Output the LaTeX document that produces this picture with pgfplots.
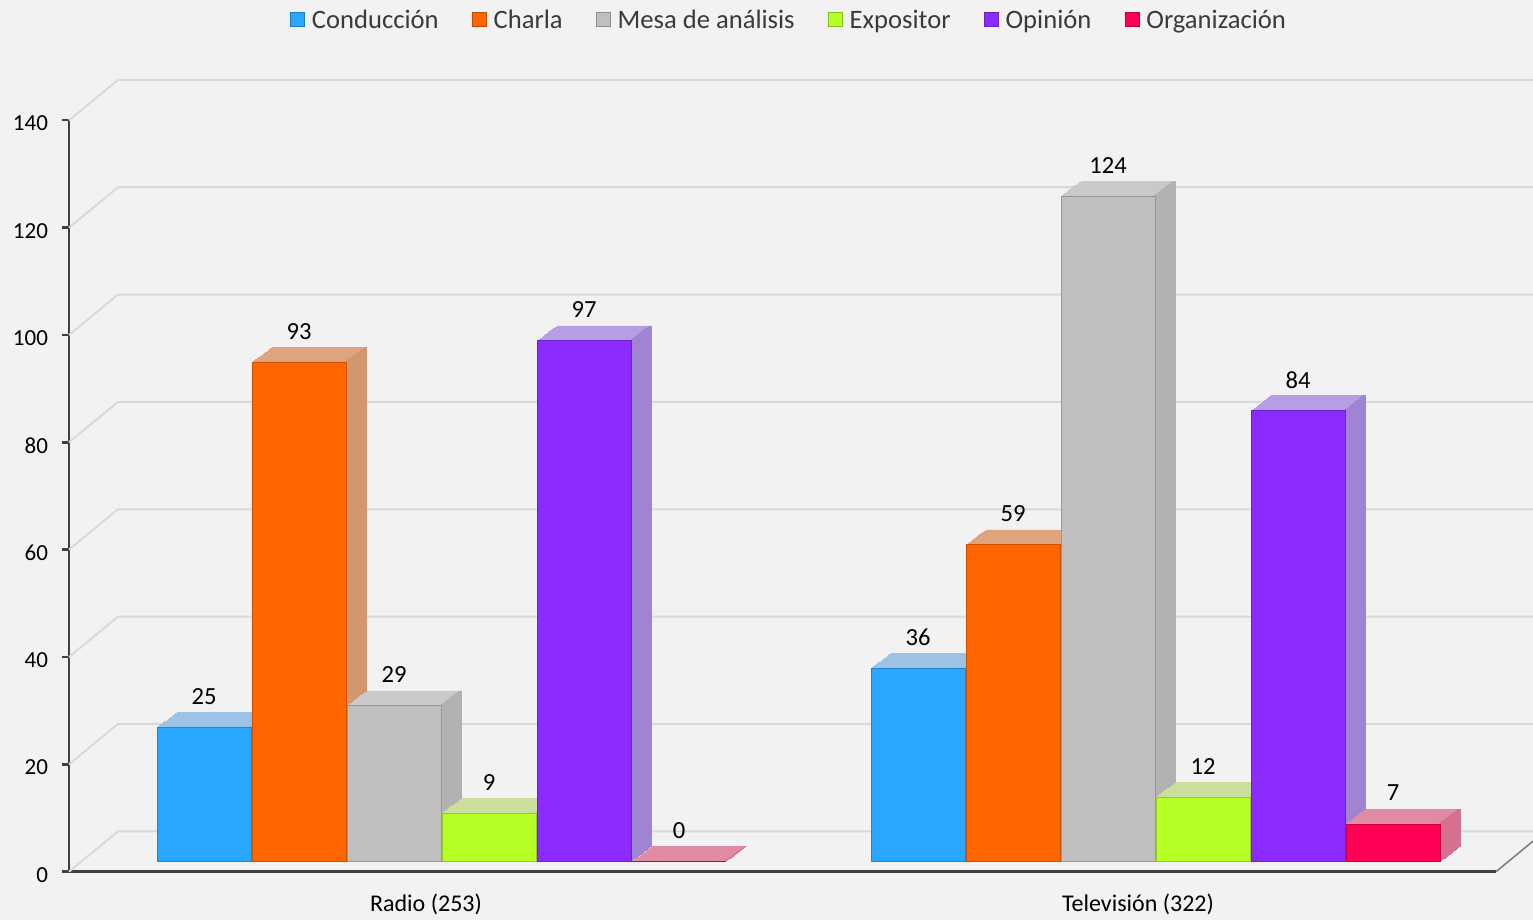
\documentclass[border=0pt]{standalone}
\usepackage{pgfplots}
\pgfplotsset{compat=1.18}
\usepackage{pgfplotstable}
\usepackage{fontspec}
\setmainfont{Carlito}
\usetikzlibrary{backgrounds}

\definecolor{bg}{HTML}{F2F2F2}
\definecolor{gridc}{HTML}{D9D9D9}
\definecolor{axisc}{HTML}{404040}
\definecolor{floorc}{HTML}{808080}
\definecolor{legc}{HTML}{3A3A3A}
\definecolor{cA}{HTML}{29A6FF}\definecolor{cAt}{HTML}{9CC3E6}\definecolor{cAs}{HTML}{86B4DC}
\definecolor{cB}{HTML}{FF6600}\definecolor{cBt}{HTML}{DDA47E}\definecolor{cBs}{HTML}{D29670}
\definecolor{cC}{HTML}{BFBFBF}\definecolor{cCt}{HTML}{C9C9C9}\definecolor{cCs}{HTML}{B2B2B2}
\definecolor{cD}{HTML}{B5FF26}\definecolor{cDt}{HTML}{CBDF9A}\definecolor{cDs}{HTML}{BBCF88}
\definecolor{cE}{HTML}{8B2BFF}\definecolor{cEt}{HTML}{B79DE3}\definecolor{cEs}{HTML}{A183D3}
\definecolor{cF}{HTML}{FF0055}\definecolor{cFt}{HTML}{E08AA3}\definecolor{cFs}{HTML}{D5708E}

% x = bar position (first row Radio, second row Televisión), y = value
\pgfplotstableread{
x y
204 25
918 36
}\conduccion
\pgfplotstableread{
x y
299 93
1013 59
}\charla
\pgfplotstableread{
x y
394 29
1108 124
}\mesa
\pgfplotstableread{
x y
489 9
1203 12
}\expositor
\pgfplotstableread{
x y
584 97
1298 84
}\opinion
\pgfplotstableread{
x y
679 0
1393 7
}\organizacion

% #1 main, #2 top colour, #3 side colour, #4 table
\newcommand{\barseries}[4]{%
  \pgfplotsinvokeforeach{16,15,...,1}{%
    \addplot[forget plot, ybar, bar shift=0, bar width=94, fill=#2, draw=#2, line width=0.3pt,
      xshift={##1*0.625pt}, yshift={5.05pt+##1*0.46875pt}] table {#4};
  }%
  \pgfplotsinvokeforeach{16,15,...,1}{%
    \addplot[forget plot, ybar, bar shift=46, bar width=2, fill=#3, draw=#3, line width=0.3pt,
      xshift={##1*0.625pt}, yshift={5.05pt+##1*0.46875pt}] table {#4};
  }%
  \addplot[ybar, bar shift=0, bar width=94, fill=#1, draw=#1!80!black, line width=0.5pt,
      yshift=5.05pt,
      legend image code/.code={\filldraw[fill=#1, draw=#1!75!black, line width=0.4pt] (0pt,-7.85pt) rectangle (7pt,-0.85pt);},
      nodes near coords,
      every node near coord/.append style={anchor=center, yshift=15.5pt, font=\fontsize{12.3}{14}\selectfont, text=black}] table {#4};
}

\begin{document}
\begin{tikzpicture}
\begin{axis}[
  name=ax,
  scale only axis, width=713.5pt, height=375.7pt,
  xmin=69, xmax=1496, ymin=0, ymax=140,
  clip=false,
  axis x line*=bottom, axis y line*=left,
  axis line style={draw=axisc, line width=1.2pt, -},
  ytick={0,20,...,140},
  ytick style={draw=axisc, line width=1.2pt},
  tick align=outside, major tick length=3.5pt,
  xtick={426,1138}, xticklabels={Radio (253), Televisión (322)},
  xtick style={draw=none},
  /pgf/number format/assume math mode=true,
  yticklabel style={font=\fontsize{11.5}{13}\selectfont, text=black, xshift=-3.5pt, yshift=-1.5pt},
  xticklabel style={font=\fontsize{12}{14}\selectfont, text=black, yshift=-4pt},
  legend columns=6,
  legend style={at={(rel axis cs:0.5053,1)}, anchor=center, yshift=49.6pt,
    draw=none, fill=none, font=\fontsize{13.3}{16}\selectfont, text=legc,
    /tikz/every odd column/.append style={column sep=1.5pt},
    /tikz/every even column/.append style={column sep=14.6pt}},
  legend cell align=left,
]
% back wall grid lines
\pgfplotsinvokeforeach{0,20,...,140}{%
  \draw[gridc, line width=1pt] (axis cs:69,#1) -- ++(24.5pt,20.2pt) -- ++(800pt,0pt);
}
\draw[floorc, line width=0.8pt] (axis cs:1496,0) -- ++(24.5pt,20.2pt);

\barseries{cA}{cAt}{cAs}{\conduccion}
\addlegendentry{Conducción}
\barseries{cB}{cBt}{cBs}{\charla}
\addlegendentry{Charla}
\barseries{cC}{cCt}{cCs}{\mesa}
\addlegendentry{Mesa de análisis}
\barseries{cD}{cDt}{cDs}{\expositor}
\addlegendentry{Expositor}
\barseries{cE}{cEt}{cEs}{\opinion}
\addlegendentry{Opinión}
\barseries{cF}{cFt}{cFs}{\organizacion}
\addlegendentry{Organización}
\end{axis}
\pgfresetboundingbox
\path[use as bounding box] ([shift={(-34.5pt,-24.15pt)}]ax.south west) rectangle ([shift={(732pt,435.85pt)}]ax.south west);
\begin{scope}[on background layer]
\fill[bg] ([shift={(-34.5pt,-24.15pt)}]ax.south west) rectangle ([shift={(732pt,435.85pt)}]ax.south west);
\end{scope}
\end{tikzpicture}
\end{document}
